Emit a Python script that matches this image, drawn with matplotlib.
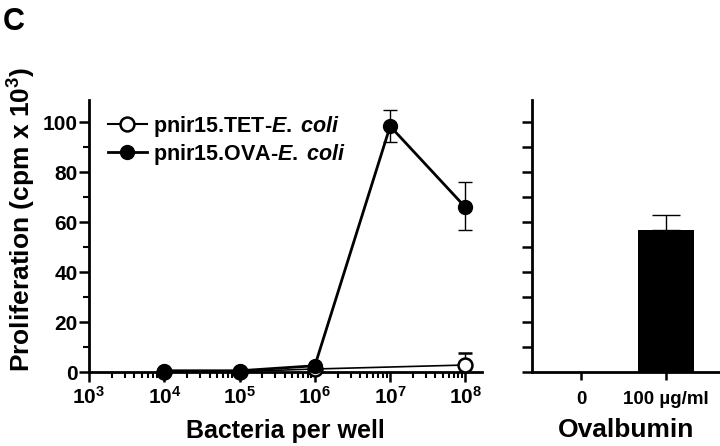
import matplotlib
matplotlib.use("Agg")
import matplotlib.pyplot as plt
import numpy as np
from matplotlib.ticker import LogLocator, NullFormatter, FixedLocator, MultipleLocator
from matplotlib.lines import Line2D

plt.rcParams['font.family'] = ['Liberation Sans', 'DejaVu Sans']
plt.rcParams['font.weight'] = 'bold'
plt.rcParams['mathtext.fontset'] = 'custom'
plt.rcParams['mathtext.rm'] = 'Liberation Sans:bold'
plt.rcParams['mathtext.it'] = 'Liberation Sans:italic:bold'
plt.rcParams['mathtext.bf'] = 'Liberation Sans:bold'

# Data
ova_x = [1e4, 1e5, 1e6, 1e7, 1e8]
ova_y = [0.5, 0.5, 2.5, 98.5, 66]
ova_err_lo = [0, 0, 0, 6.5, 9]
ova_err_hi = [0, 0, 0, 6.5, 10]

tet_x = [1e4, 1e5, 1e6, 1e8]
tet_y = [0.2, 0.2, 1.2, 2.8]
tet_err = [0, 0, 0, 5]

bar_cats = ["0", "100 \u00b5g/ml"]
bar_vals = [0, 57]
bar_err = [0, 6]

xtick_vals = [1e3, 1e4, 1e5, 1e6, 1e7, 1e8]
xtick_labels = [r"$10^{3}$", r"$10^{4}$", r"$10^{5}$", r"$10^{6}$", r"$10^{7}$", r"$10^{8}$"]

tet_label = r"pnir15.TET-$\mathit{E.\;coli}$"
ova_label = r"pnir15.OVA-$\mathit{E.\;coli}$"

fig = plt.figure(figsize=(7.2, 4.46), dpi=100)

ax = fig.add_axes([89/720, (446-372)/446, (482-89)/720, (372-100)/446])
ax2 = fig.add_axes([532/720, (446-372)/446, (720-532)/720, (372-100)/446])

lw_sp = 2.0
for a in (ax, ax2):
    a.spines['top'].set_visible(False)
    a.spines['right'].set_visible(False)
    a.spines['left'].set_linewidth(lw_sp)
    a.spines['bottom'].set_linewidth(lw_sp)
    a.set_ylim(0, 109)

# Left panel
ax.set_xscale('log')
ax.set_xlim(1e3, 10**8.22)
ax.errorbar(tet_x, tet_y, yerr=[[0]*len(tet_err), tet_err], fmt='-o', color='black',
            mfc='white', mec='black', mew=1.8, ms=10, lw=1.2, capsize=5, elinewidth=1.0,
            capthick=1.0, zorder=3, clip_on=False)
ax.errorbar(ova_x, ova_y, yerr=[ova_err_lo, ova_err_hi], fmt='-o', color='black',
            mfc='black', mec='black', ms=10, lw=2.0, capsize=5, elinewidth=1.0,
            capthick=1.0, zorder=4, clip_on=False)

ax.xaxis.set_major_locator(FixedLocator(xtick_vals))
ax.set_xticklabels(xtick_labels, fontsize=15, fontweight='normal')
ax.xaxis.set_minor_locator(LogLocator(base=10, subs=np.arange(2, 10)))
ax.xaxis.set_minor_formatter(NullFormatter())
ax.tick_params(axis='x', which='major', length=7, width=1.8, pad=3)
ax.tick_params(axis='x', which='minor', length=4, width=1.5)

ax.yaxis.set_major_locator(MultipleLocator(20))
ax.yaxis.set_minor_locator(MultipleLocator(10))
ax.tick_params(axis='y', which='major', length=7, width=1.8, labelsize=15, pad=1)
ax.tick_params(axis='y', which='minor', length=4, width=1.5)
for t in ax.get_yticklabels():
    t.set_fontweight('bold')

ax.set_xlabel("Bacteria per well", fontsize=18, fontweight='bold', labelpad=8)
ax.set_ylabel(r"Proliferation (cpm x 10$^{3}$)", fontsize=19, fontweight='bold')
ax.yaxis.set_label_coords(-0.13, 0.56)

handles = [
    Line2D([], [], color='black', lw=1.5, marker='o', mfc='white', mec='black', mew=1.8, ms=10),
    Line2D([], [], color='black', lw=2.0, marker='o', mfc='black', mec='black', ms=10),
]
leg = ax.legend(handles, [tet_label, ova_label], loc='upper left', bbox_to_anchor=(0.048, 0.95),
                frameon=False, handlelength=1.8, handletextpad=0.3, borderaxespad=0.0,
                borderpad=0.0, labelspacing=0.15, prop={'weight': 'bold', 'size': 15.5})

# Right panel
xpos = np.arange(len(bar_cats))
ax2.bar(xpos, bar_vals, width=0.66, color='black', zorder=3)
ax2.errorbar(xpos[1:], bar_vals[1:], yerr=[[0], bar_err[1:]], fmt='none', ecolor='black',
             elinewidth=1.0, capsize=10, capthick=1.0, zorder=2)
ax2.set_xlim(-0.58, 1.64)
ax2.set_xticks(xpos)
ax2.set_xticklabels(bar_cats, fontsize=13.5, fontweight='bold')
ax2.tick_params(axis='x', length=6, width=1.8, pad=8)
ax2.yaxis.set_major_locator(MultipleLocator(10))
ax2.set_yticklabels([])
ax2.tick_params(axis='y', length=7, width=1.8)
ax2.set_xlabel("Ovalbumin", fontsize=19, fontweight='bold', labelpad=7)

fig.text(0.004, 0.985, "C", fontsize=22, fontweight='bold', va='top', ha='left')

fig.savefig("out.png", dpi=100)
